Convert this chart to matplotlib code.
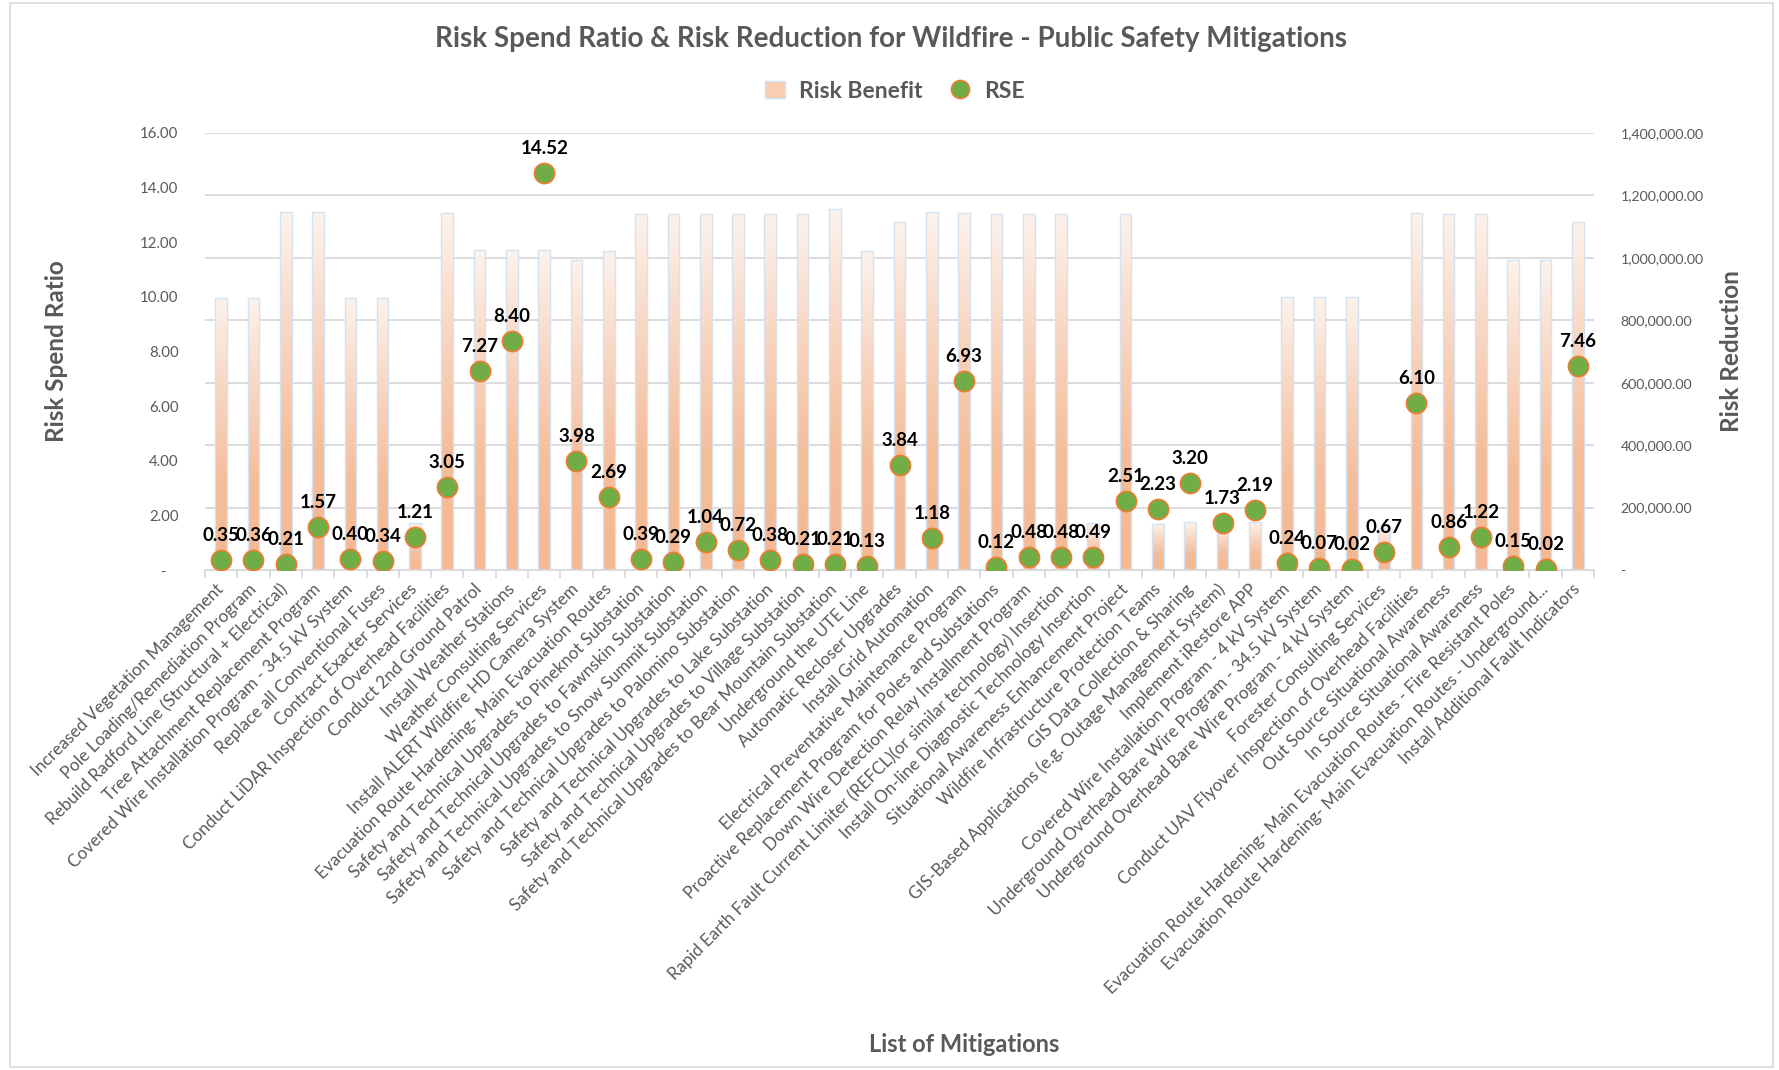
import matplotlib.pyplot as plt
import numpy as np
from matplotlib.colors import LinearSegmentedColormap
from matplotlib.patches import Patch, Rectangle
from matplotlib.lines import Line2D
from matplotlib.ticker import FuncFormatter, MultipleLocator

plt.rcParams['font.family'] = ['Lato', 'DejaVu Sans']

mitigations = [
    'Increased Vegetation Management',
    'Pole Loading/Remediation Program',
    'Rebuild Radford Line (Structural + Electrical)',
    'Tree Attachment Replacement Program',
    'Covered Wire Installation Program - 34.5 kV System',
    'Replace all Conventional Fuses',
    'Contract Exacter Services',
    'Conduct LiDAR Inspection of Overhead Facilities',
    'Conduct 2nd Ground Patrol',
    'Install Weather Stations',
    'Weather Consulting Services',
    'Install ALERT Wildfire HD Camera System',
    'Evacuation Route Hardening- Main Evacuation Routes',
    'Safety and Technical Upgrades to Pineknot Substation',
    'Safety and Technical Upgrades to Fawnskin Substation',
    'Safety and Technical Upgrades to Snow Summit Substation',
    'Safety and Technical Upgrades to Palomino Substation',
    'Safety and Technical Upgrades to Lake Substation',
    'Safety and Technical Upgrades to Village Substation',
    'Safety and Technical Upgrades to Bear Mountain Substation',
    'Underground the UTE Line',
    'Automatic Recloser Upgrades',
    'Install Grid Automation',
    'Electrical Preventative Maintenance Program',
    'Proactive Replacement Program for Poles and Substations',
    'Down Wire Detection Relay Installment Program',
    'Rapid Earth Fault Current Limiter (REFCL)(or similar technology) Insertion',
    'Install On-line Diagnostic Technology Insertion',
    'Situational Awareness Enhancement Project',
    'Wildfire Infrastructure Protection Teams',
    'GIS Data Collection & Sharing',
    'GIS-Based Applications (e.g. Outage Management System)',
    'Implement iRestore APP',
    'Covered Wire Installation Program - 4 kV System',
    'Underground Overhead Bare Wire Program - 34.5 kV System',
    'Underground Overhead Bare Wire Program - 4 kV System',
    'Forester Consulting Services',
    'Conduct UAV Flyover Inspection of Overhead Facilities',
    'Out Source Situational Awareness',
    'In Source Situational Awareness',
    'Evacuation Route Hardening- Main Evacuation Routes - Fire Resistant Poles',
    'Evacuation Route Hardening- Main Evacuation Routes - Underground...',
    'Install Additional Fault Indicators',
]

rse = [0.35, 0.36, 0.21, 1.57, 0.40, 0.34, 1.21, 3.05, 7.27, 8.40, 14.52,
       3.98, 2.69, 0.39, 0.29, 1.04, 0.72, 0.38, 0.21, 0.21, 0.13, 3.84,
       1.18, 6.93, 0.12, 0.48, 0.48, 0.49, 2.51, 2.23, 3.20, 1.73, 2.19,
       0.24, 0.07, 0.02, 0.67, 6.10, 0.86, 1.22, 0.15, 0.02, 7.46]

risk_benefit = [872000, 872000, 1146000, 1146000, 872000, 872000, 150000,
                1143000, 1024000, 1024000, 1024000, 994000, 1021000,
                1141000, 1141000, 1141000, 1141000, 1141000, 1141000,
                1157000, 1021000, 1114000, 1146000, 1143000, 1141000,
                1142000, 1142000, 150000, 1142000, 148000, 153000, 148000,
                153000, 873000, 873000, 873000, 135000, 1145000, 1142000,
                1142000, 992000, 992000, 1115000]

grey = '#595959'
W, H = 1779, 1070

fig = plt.figure(figsize=(W / 100, H / 100), dpi=100)
left, right, top, bottom = 205, 1594, 133, 570
ax = fig.add_axes([left / W, 1 - bottom / H, (right - left) / W, (bottom - top) / H])
ax2 = ax.twinx()
ax.set_zorder(ax2.get_zorder() + 1)
ax.patch.set_visible(False)

x = np.arange(len(mitigations))

# gradient bars (risk benefit) on the right axis
cmap = LinearSegmentedColormap.from_list('rb', ['#F4B892', '#F5BE9B', '#F9D6C1', '#FDF3EC'])
grad = np.linspace(0, 1, 256).reshape(-1, 1)
bars = ax2.bar(x, risk_benefit, width=0.36, color='none', edgecolor='#D3E3F3',
               linewidth=1.0, zorder=2)
for b in bars:
    x0, w, h = b.get_x(), b.get_width(), b.get_height()
    im = ax2.imshow(grad, extent=[x0, x0 + w, 0, h], origin='lower', aspect='auto',
                    cmap=cmap, vmin=0, vmax=1, zorder=1.5)
    im.set_clip_path(b)

ax2.set_ylim(0, 1400000)
ax2.yaxis.set_major_locator(MultipleLocator(200000))
ax2.yaxis.set_major_formatter(FuncFormatter(lambda v, p: '-' if v == 0 else f'{v:,.2f}'))
ax2.yaxis.grid(True, color='#D9D9D9', linewidth=1.3)
ax2.set_axisbelow(True)
ax2.tick_params(axis='y', length=0, pad=19, labelsize=10.2, labelcolor=grey)
ax2.set_ylabel('Risk Reduction', fontsize=17.5, fontweight='bold', color=grey, labelpad=12)

# RSE points on the left axis
ax.plot(x, rse, 'o', ms=14.5, mfc='#70AD47', mec='#ED7D31', mew=1.2, ls='none', zorder=3)
for xi, v in zip(x, rse):
    ax.annotate(f'{v:.2f}', (xi, v), xytext=(0, 11.5), textcoords='offset points',
                ha='center', va='bottom', fontsize=13.5, fontweight='bold', color='black')

ax.set_ylim(0, 16)
ax.yaxis.set_major_locator(MultipleLocator(2))
ax.yaxis.set_major_formatter(FuncFormatter(lambda v, p: '-   ' if v == 0 else f'{v:.2f}'))
ax.tick_params(axis='y', length=0, pad=19, labelsize=10.8, labelcolor=grey)
ax.set_ylabel('Risk Spend Ratio', fontsize=17.5, fontweight='bold', color=grey, labelpad=52)

ax.set_xlim(-0.5, len(mitigations) - 0.5)
ax2.set_xlim(-0.5, len(mitigations) - 0.5)
ax.set_xticks(x)
ax.set_xticklabels(mitigations, rotation=45, ha='right', va='center',
                   rotation_mode='anchor', fontsize=12.3, color=grey)
ax.set_xticks(np.arange(-0.5, len(mitigations)), minor=True)
ax.tick_params(axis='x', which='major', length=0, pad=12)
ax.tick_params(axis='x', which='minor', length=6, color='#D9D9D9', width=1.3)

for a in (ax, ax2):
    for s in a.spines.values():
        s.set_visible(False)
ax.spines['bottom'].set_visible(True)
ax.spines['bottom'].set_color('#D9D9D9')
ax.spines['bottom'].set_linewidth(1.3)

fig.text(891 / W, 1 - 39 / H, 'Risk Spend Ratio & Risk Reduction for Wildfire - Public Safety Mitigations',
         ha='center', va='center', fontsize=20, fontweight='bold', color=grey)
fig.text(964 / W, 1 - 1044 / H, 'List of Mitigations', ha='center', va='center',
         fontsize=17, fontweight='bold', color=grey)

handles = [Patch(facecolor='#F8CDB0', edgecolor='#D3E3F3', label='Risk Benefit'),
           Line2D([], [], marker='o', ls='none', ms=13, mfc='#70AD47', mec='#ED7D31',
                  mew=1.2, label='RSE')]
leg = fig.legend(handles=handles, loc='center', bbox_to_anchor=(895 / W, 1 - 91 / H),
                 ncol=2, frameon=False, fontsize=16.5, handlelength=0.9, handletextpad=0.6,
                 columnspacing=1.2)
for t in leg.get_texts():
    t.set_color(grey)
    t.set_fontweight('bold')

fig.patches.append(Rectangle((10 / W, 3 / H), (1773 - 10) / W, (1067 - 3) / H,
                             transform=fig.transFigure, fill=False,
                             edgecolor='#D9D9D9', linewidth=1.2))

fig.savefig('out.png', dpi=100)
